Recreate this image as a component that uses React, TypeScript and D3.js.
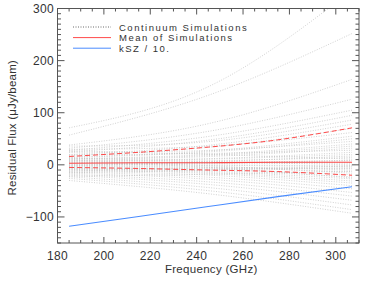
import React from 'react';
import * as d3 from 'd3';

// frequencies (GHz) the curves are read at
const simFreqs = [185, 246, 307];
const curveFreqs = [185, 215, 245, 275, 307];

// continuum simulations, residual flux (uJy/beam) at 185, 246, 307 GHz
const simAt185 = [71, 57, 38, 32, 28, 25, 36, 20, 18, 30, 15, 14, 24, 12, 11, 10, 19, 8, 7, -2, 5, 27, 4, 3, 2, 13, 0, -1, -12, -3, -4, 9, -6, -7, -8, -9, -10, -12, -14, -16, -18, -20, -23, -26, -30, -15, -22, 6, -5, 1];
const simAt246 = [152, 135, 80, 65, 55, 48, 45, 38, 34, 36, 27, 25, 28, 20, 18, 16, 22, 12, 11, 6, 8, 20, 5, 4, 3, 6, 0, -1, -6, -4, -6, -2, -9, -11, -13, -15, -17, -20, -24, -28, -33, -38, -44, -50, -56, -10, -18, -5, -8, 3];
const simAt307 = [335, 252, 164, 126, 105, 95, 86, 78, 70, 62, 55, 50, 45, 40, 36, 32, 28, 24, 20, 17, 14, 11, 8, 5, 3, 0, -2, -4, -7, -10, -13, -16, -19, -23, -27, -31, -35, -40, -46, -53, -60, -68, -77, -86, -93, -2, -12, -25, -6, 9];

const meanSim = [3, 4, 4, 5, 5];
const upperSim = [16, 24, 34, 48, 71];
const lowerSim = [-5, -7, -10, -13, -20];
const kszOver10 = [-118, -99, -80, -61, -42];

const xTicks = [180, 200, 220, 240, 260, 280, 300];
const yTicks = [-100, 0, 100, 200, 300];

const W = 366;
const H = 284;
const left = 57.5;
const right = 359;
const top = 8.5;
const bottom = 243;

const x = d3.scaleLinear().domain([180, 310]).range([left, right]);
const y = d3.scaleLinear().domain([-150, 300]).range([bottom, top]);

const font = '"Liberation Sans", Arial, sans-serif';
const ink = '#333';
const axisCol = '#555';

const line = d3.line<[number, number]>()
  .x(d => x(d[0]))
  .y(d => y(d[1]))
  .curve(d3.curveNatural);

const pts = (fs: number[], vs: number[]) => fs.map((f, i) => [f, vs[i]] as [number, number]);

const App = () => {
  const xMinor = d3.range(180, 311, 5);
  const yMinor = d3.range(-150, 301, 10);
  const isMajorX = (v: number) => v % 20 === 0;
  const isMajorY = (v: number) => v % 100 === 0;

  const legend = [
    { label: 'Continuum Simulations', color: '#444', dash: '1,1.5', w: 0.8 },
    { label: 'Mean of Simulations', color: '#ff4a4a', dash: null, w: 1 },
    { label: 'kSZ / 10.', color: '#4a8cff', dash: null, w: 1 },
  ];

  return (
    <div style={{ position: 'fixed', left: 0, top: 0 }}>
      <svg width={W} height={H} style={{ display: 'block', background: '#fff' }}>
        <defs>
          <clipPath id="plot">
            <rect x={left} y={top} width={right - left} height={bottom - top} />
          </clipPath>
        </defs>

        <g clipPath="url(#plot)">
          {simAt185.map((s, i) => (
            <path key={i}
              d={line(pts(simFreqs, [s, simAt246[i], simAt307[i]])) || ''}
              fill="none" stroke="#bdbdbd" strokeWidth={0.7} strokeDasharray="1,1.5" />
          ))}
          <path d={line(pts(curveFreqs, upperSim)) || ''} fill="none" stroke="#ff4a4a" strokeWidth={1} strokeDasharray="5,3" />
          <path d={line(pts(curveFreqs, lowerSim)) || ''} fill="none" stroke="#ff4a4a" strokeWidth={1} strokeDasharray="5,3" />
          <path d={line(pts(curveFreqs, meanSim)) || ''} fill="none" stroke="#ff4a4a" strokeWidth={1.1} />
          <path d={line(pts(curveFreqs, kszOver10)) || ''} fill="none" stroke="#4a8cff" strokeWidth={1.1} />
        </g>

        {/* frame */}
        <rect x={left} y={top} width={right - left} height={bottom - top} fill="none" stroke={axisCol} strokeWidth={1} />

        {/* ticks, pointing inward on all four sides */}
        {xMinor.map(v => {
          const len = isMajorX(v) ? 6 : 3;
          return (
            <g key={'x' + v} stroke={axisCol} strokeWidth={1}>
              <line x1={x(v)} x2={x(v)} y1={bottom} y2={bottom - len} />
              <line x1={x(v)} x2={x(v)} y1={top} y2={top + len} />
            </g>
          );
        })}
        {yMinor.map(v => {
          const len = isMajorY(v) ? 7 : 3.5;
          return (
            <g key={'y' + v} stroke={axisCol} strokeWidth={1}>
              <line x1={left} x2={left + len} y1={y(v)} y2={y(v)} />
              <line x1={right} x2={right - len} y1={y(v)} y2={y(v)} />
            </g>
          );
        })}

        {xTicks.map(v => (
          <text key={'xl' + v} x={x(v)} y={260} textAnchor="middle" fontFamily={font} fontSize={12} letterSpacing={0.3} fill={ink}>{v}</text>
        ))}
        {yTicks.map(v => (
          <text key={'yl' + v} x={54} y={y(v) + 4.3} textAnchor="end" fontFamily={font} fontSize={12} letterSpacing={0.3} fill={ink}>
            {v < 0 ? '\u2212' + Math.abs(v) : v}
          </text>
        ))}

        <text x={(left + right) / 2 + 3} y={273} textAnchor="middle" fontFamily={font} fontSize={11.5} letterSpacing={0.3} fill={ink}>Frequency (GHz)</text>
        <text transform={`translate(16,${(top + bottom) / 2 + 2}) rotate(-90)`} textAnchor="middle" fontFamily={font} fontSize={11.5} letterSpacing={0.2} fill={ink}>
          Residual Flux (μJy/beam)
        </text>

        {legend.map((l, i) => {
          const ly = 27 + i * 10.6;
          return (
            <g key={l.label}>
              <line x1={73} x2={111} y1={ly} y2={ly} stroke={l.color} strokeWidth={l.w} strokeDasharray={l.dash || undefined} />
              <text x={119} y={ly + 3.6} fontFamily={font} fontSize={9.5} letterSpacing={1.5} fill={ink}>{l.label}</text>
            </g>
          );
        })}
      </svg>
    </div>
  );
};

export default App;
